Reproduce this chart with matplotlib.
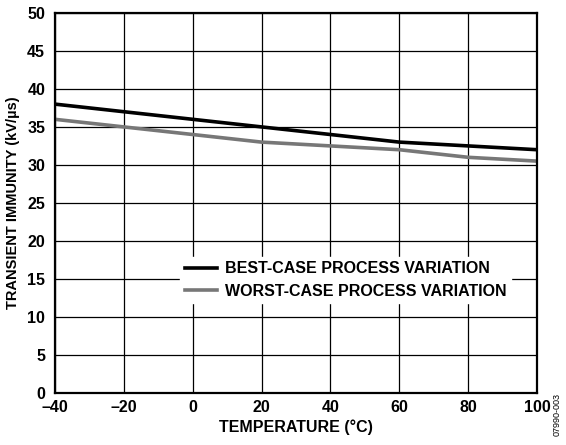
import matplotlib.pyplot as plt

plt.rcParams['font.family'] = ['Liberation Sans', 'DejaVu Sans']
plt.rcParams['font.weight'] = 'bold'

temps = [-40, -20, 0, 20, 40, 60, 80, 100]
best_case = [38, 37, 36, 35, 34, 33, 32.5, 32]
worst_case = [36, 35, 34, 33, 32.5, 32, 31, 30.5]

fig = plt.figure(figsize=(5.66, 4.45), dpi=100)
ax = fig.add_axes([0.097, 0.117, 0.852, 0.854])

ax.plot(temps, best_case, color="black", lw=2.6, label="BEST-CASE PROCESS VARIATION")
ax.plot(temps, worst_case, color="#777777", lw=2.6, label="WORST-CASE PROCESS VARIATION")

ax.set_xlim(-40, 100)
ax.set_ylim(0, 50)
ax.set_xticks(range(-40, 101, 20))
ax.set_xticklabels(["\u201340", "\u201320", "0", "20", "40", "60", "80", "100"])
ax.set_yticks(range(0, 51, 5))
ax.grid(True, color="black", lw=0.9)
ax.tick_params(length=0, labelsize=11.5)
ax.tick_params(axis="y", pad=7)
ax.tick_params(axis="x", pad=5)
for s in ax.spines.values():
    s.set_linewidth(1.6)

ax.set_xlabel("TEMPERATURE (°C)", fontsize=11.5, fontweight="bold", labelpad=3)
ax.set_ylabel("TRANSIENT IMMUNITY (kV/µs)", fontsize=10.5, fontweight="bold", labelpad=5)

leg = ax.legend(loc="center left", bbox_to_anchor=(0.243, 0.297), frameon=True,
                fancybox=False, framealpha=1, facecolor="white", edgecolor="white",
                fontsize=11.5, handlelength=2.0, handletextpad=0.5,
                borderpad=0.3, labelspacing=0.45)
for t in leg.get_texts():
    t.set_fontweight("bold")

fig.text(0.985, 0.02, "07990-003", rotation=90, fontsize=6.5, fontweight="normal",
         ha="center", va="bottom")

fig.savefig("out.png", dpi=100)
